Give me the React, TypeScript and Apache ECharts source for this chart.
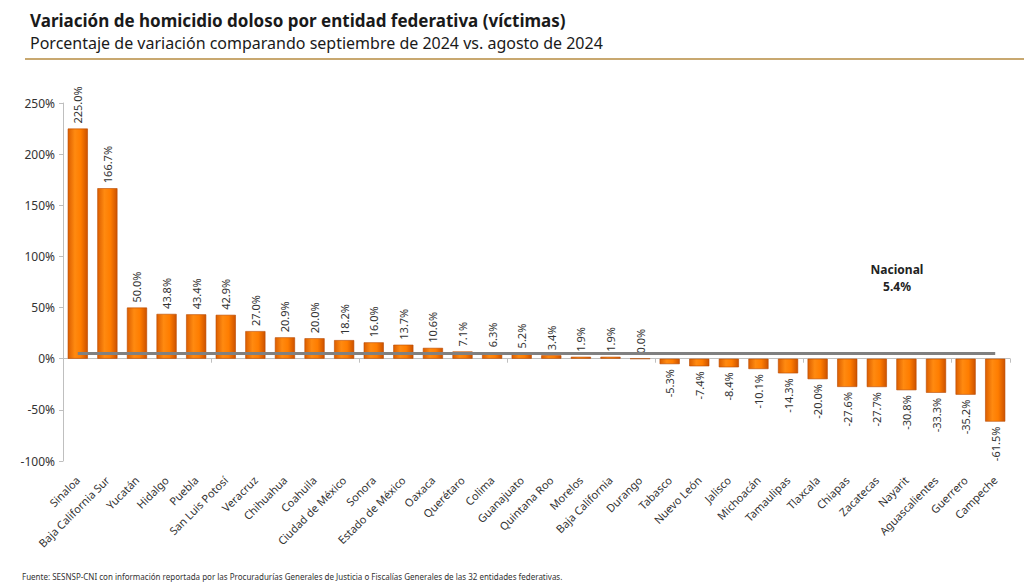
import React, { useEffect, useRef } from "react";
import * as echarts from "echarts";

const categories = [
  "Sinaloa", "Baja California Sur", "Yucatán", "Hidalgo", "Puebla", "San Luis Potosí",
  "Veracruz", "Chihuahua", "Coahuila", "Ciudad de México", "Sonora", "Estado de México",
  "Oaxaca", "Querétaro", "Colima", "Guanajuato", "Quintana Roo", "Morelos",
  "Baja California", "Durango", "Tabasco", "Nuevo León", "Jalisco", "Michoacán",
  "Tamaulipas", "Tlaxcala", "Chiapas", "Zacatecas", "Nayarit", "Aguascalientes",
  "Guerrero", "Campeche",
];
const values = [
  225.0, 166.7, 50.0, 43.8, 43.4, 42.9, 27.0, 20.9, 20.0, 18.2, 16.0, 13.7, 10.6, 7.1, 6.3,
  5.2, 3.4, 1.9, 1.9, 0.0, -5.3, -7.4, -8.4, -10.1, -14.3, -20.0, -27.6, -27.7, -30.8,
  -33.3, -35.2, -61.5,
];
const nacional = 5.4;
const yTicks = { min: -100, max: 250, interval: 50 };

const title = "Variación de homicidio doloso por entidad federativa (víctimas)";
const subtitle = "Porcentaje de variación comparando septiembre de 2024 vs. agosto de 2024";
const footer =
  "Fuente: SESNSP-CNI con información reportada por las Procuradurías Generales de Justicia o Fiscalías Generales de las 32 entidades federativas.";

const FONT = "'Noto Sans', 'Open Sans', sans-serif";

export default function App() {
  const ref = useRef<HTMLDivElement>(null);
  useEffect(() => {
    document.body.style.margin = "0";
    const chart = echarts.init(ref.current!, null, { renderer: "svg" });
    const barColor = new echarts.graphic.LinearGradient(0, 0, 1, 0, [
      { offset: 0, color: "#DC5E00" },
      { offset: 0.35, color: "#FF8A10" },
      { offset: 0.65, color: "#FF7D00" },
      { offset: 1, color: "#CC5200" },
    ]);
    const data = values.map((v) => ({
      value: v,
      label: {
        show: true,
        position: v >= 0 ? "top" : "bottom",
        rotate: 90,
        align: v >= 0 ? "left" : "right",
        verticalAlign: "middle",
        distance: 5,
        formatter: (p: any) => p.value.toFixed(1) + "%",
        color: "#333",
        fontSize: 11,
        fontFamily: FONT,
      },
    }));
    chart.setOption({
      animation: false,
      textStyle: { fontFamily: FONT },
      grid: { left: 63, right: 14, top: 103, bottom: 123 },
      xAxis: [
        {
          type: "category",
          data: categories,
          axisLine: { show: false, onZero: false },
          axisTick: { show: false },
          axisLabel: {
            rotate: 45,
            interval: 0,
            fontSize: 11,
            color: "#333",
            margin: 17,
            fontFamily: FONT,
          },
        },
        {
          type: "category",
          data: categories,
          position: "bottom",
          axisLine: { show: true, onZero: true, lineStyle: { color: "#BFBFBF", width: 1 } },
          axisTick: { show: true, length: 4, lineStyle: { color: "#BFBFBF" } },
          axisLabel: { show: false },
        },
      ],
      yAxis: {
        type: "value",
        min: yTicks.min,
        max: yTicks.max,
        interval: yTicks.interval,
        axisLine: { show: true, lineStyle: { color: "#BFBFBF" } },
        axisTick: { show: true, length: 4, lineStyle: { color: "#BFBFBF" } },
        splitLine: { show: false },
        axisLabel: {
          formatter: "{value}%",
          fontSize: 12,
          color: "#333",
          margin: 8,
          fontFamily: FONT,
        },
      },
      series: [
        {
          type: "bar",
          data,
          barCategoryGap: "32%",
          itemStyle: { color: barColor, borderColor: "#B84A00", borderWidth: 0.6 },
          markLine: {
            silent: true,
            symbol: "none",
            label: { show: false },
            lineStyle: { color: "#808080", width: 3, type: "solid" },
            data: [
              [
                { coord: [0, nacional] },
                { coord: [categories.length - 1, nacional] },
              ],
            ],
            z: 10,
          },
        },
      ],
      graphic: [
        {
          type: "text",
          left: 30,
          top: 12,
          style: { text: title, fontSize: 17, fontWeight: "bold", fill: "#1a1a1a", fontFamily: FONT },
        },
        {
          type: "text",
          left: 30,
          top: 35,
          style: { text: subtitle, fontSize: 16, fill: "#1a1a1a", fontFamily: FONT },
        },
        {
          type: "line",
          shape: { x1: 25, y1: 59, x2: 1024, y2: 59 },
          style: { stroke: "#C8A870", lineWidth: 2 },
        },
        {
          type: "text",
          x: 897,
          y: 261,
          style: {
            text: "Nacional\n" + nacional.toFixed(1) + "%",
            fontSize: 12,
            fontWeight: "bold",
            fill: "#222",
            align: "center",
            lineHeight: 17,
            fontFamily: FONT,
          },
        },
        {
          type: "text",
          left: 22,
          top: 572,
          style: { text: footer, fontSize: 8, fill: "#333", fontFamily: FONT },
        },
      ],
    });
    return () => chart.dispose();
  }, []);
  return (
    <div
      ref={ref}
      style={{ position: "absolute", left: 0, top: 0, width: 1024, height: 584, background: "#fff" }}
    />
  );
}
